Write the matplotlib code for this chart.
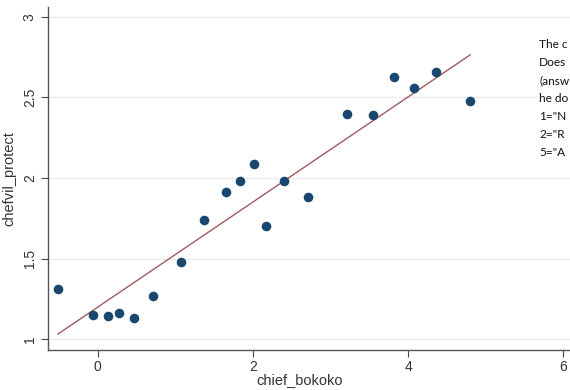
import numpy as np
import matplotlib
matplotlib.use("Agg")
import matplotlib.pyplot as plt

# data
chief_bokoko = [-0.51, -0.06, 0.14, 0.28, 0.47, 0.72, 1.08, 1.37, 1.66, 1.84,
                2.02, 2.17, 2.40, 2.71, 3.21, 3.55, 3.82, 4.07, 4.36, 4.80]
chefvil_protect = [1.31, 1.15, 1.14, 1.16, 1.13, 1.27, 1.48, 1.74, 1.91, 1.98,
                   2.09, 1.70, 1.98, 1.88, 2.40, 2.39, 2.63, 2.56, 2.66, 2.48]
x_ticks = [0, 2, 4, 6]
y_ticks = [1, 1.5, 2, 2.5, 3]
y_tick_labels = ["1", "1.5", "2", "2.5", "3"]
note_lines = ["The c", "Does", "(answ", "he do", '1="N', '2="R', '5="A']

plt.rcParams["font.family"] = ["Liberation Sans", "DejaVu Sans"]

fig = plt.figure(figsize=(5.7, 3.9), dpi=100)
ax = fig.add_axes([0.0842, 0.1026, 0.945, 0.8795])

xs = np.array(chief_bokoko)
ys = np.array(chefvil_protect)

# horizontal grid
for yt in y_ticks:
    ax.axhline(yt, color="#ececec", lw=1.0, zorder=0)

ax.scatter(xs, ys, s=48, color="#1a476f", zorder=3, linewidths=0)

# linear fit across the data range
slope, intercept = np.polyfit(xs, ys, 1)
fx = np.array([xs.min(), xs.max()])
ax.plot(fx, intercept + slope * fx, color="#a05a5f", lw=1.0, zorder=2)

ax.set_xlim(-0.638, 6.3)
ax.set_ylim(0.932, 3.062)
ax.set_xticks(x_ticks)
ax.set_yticks(y_ticks)
ax.set_yticklabels(y_tick_labels, rotation=90, va="center")
ax.tick_params(axis="both", direction="out", length=5, width=0.8,
               color="#444444", labelcolor="#333333", labelsize=10)
ax.tick_params(axis="x", pad=2)
ax.tick_params(axis="y", pad=3)

for side in ["top", "right"]:
    ax.spines[side].set_visible(False)
for side in ["left", "bottom"]:
    ax.spines[side].set_color("#555555")
    ax.spines[side].set_linewidth(1.0)

ax.set_xlabel("chief_bokoko", fontsize=10.5, color="#333333")
ax.set_ylabel("chefvil_protect", fontsize=10.5, color="#333333")
ax.xaxis.set_label_coords(0.468, -0.068)
ax.yaxis.set_label_coords(-0.058, 0.4985)

# overlapping note box, cut by the right edge
fig.patches.append(plt.Rectangle((537 / 570, 1 - 170 / 390), 40 / 570, 135 / 390,
                                 transform=fig.transFigure, facecolor="white",
                                 edgecolor="none", zorder=5))
for i, line in enumerate(note_lines):
    fig.text(539 / 570, 1 - (45 + 18 * i) / 390, line, fontsize=8.6,
             family=["Lato", "DejaVu Sans"], color="#111111",
             va="center", ha="left", zorder=6)

fig.savefig("out.png", dpi=100)
